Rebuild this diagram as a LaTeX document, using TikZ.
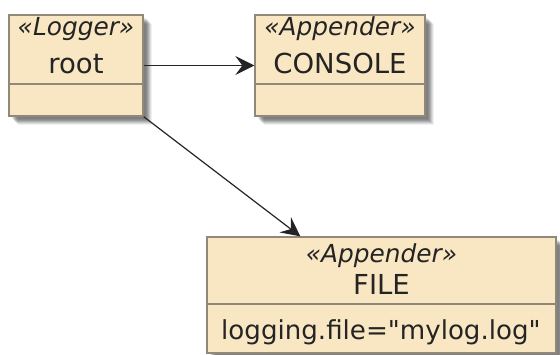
\documentclass[tikz,border=0pt]{standalone}
\usepackage{fontspec}
\setmainfont{DejaVu Sans}
\usetikzlibrary{arrows.meta}
\definecolor{umlcolor0000}{RGB}{249,230,194}
\definecolor{umlcolor0001}{RGB}{145,136,122}
\definecolor{umlcolor0002}{RGB}{36,36,36}
\begin{document}
\begin{tikzpicture}[yscale=-1,x=1pt,y=1pt
,umlbox/.style={draw=umlcolor0001,fill=umlcolor0000,line width=1.3pt,inner sep=0pt}
,stereo/.style={anchor=base,font=\fontsize{24.8}{28}\selectfont\itshape,color=umlcolor0002}
,cname/.style={anchor=base,font=\fontsize{27.5}{31}\selectfont,color=umlcolor0002}
,cfield/.style={anchor=base west,inner sep=0pt,font=\fontsize{26.1}{30}\selectfont,color=umlcolor0002}
,pstyle2/.style={color=umlcolor0001,line width=1.3pt}
,link/.style={color=umlcolor0002,line width=1.2pt,-{Stealth[length=19pt,width=19pt,inset=7pt]}}
]
\useasboundingbox (0,0) rectangle (560,354);
% shadows
\foreach \d/\o in {3/0.08,4/0.1,5/0.12,6/0.12,7/0.1,8/0.08,9/0.06}{
\fill[black,opacity=\o] (9+\d,15+\d) rectangle (143+\d,116+\d);
\fill[black,opacity=\o] (255+\d,15+\d) rectangle (425+\d,116+\d);
\fill[black,opacity=\o] (207+\d,237+\d) rectangle (556+\d,353+\d);
}
% boxes
\node (root) [umlbox,minimum width=134pt,minimum height=101pt] at (76,65.5) {};
\node (console) [umlbox,minimum width=170pt,minimum height=101pt] at (340,65.5) {};
\node (file) [umlbox,minimum width=349pt,minimum height=116pt] at (381.5,295) {};
\draw[pstyle2] (9,84) -- (143,84);
\draw[pstyle2] (255,84) -- (425,84);
\draw[pstyle2] (207,304) -- (556,304);
% texts
\node (rootst) [stereo] at (76,35) {«Logger»};
\node (rootnm) [cname] at (76,73) {root};
\node (consolest) [stereo] at (340,35) {«Appender»};
\node (consolenm) [cname] at (340,73) {CONSOLE};
\node (filest) [stereo] at (381.5,262) {«Appender»};
\node (filenm) [cname] at (381.5,294) {FILE};
\node (filefld) [cfield] at (221,339) {logging.file=\textquotedbl mylog.log\textquotedbl};
% links
\coordinate (filein) at ([xshift=94pt]file.north west);
\draw[link] (root) -- (console);
\draw[link] (root.south east) -- (filein);
\end{tikzpicture}
\end{document}
